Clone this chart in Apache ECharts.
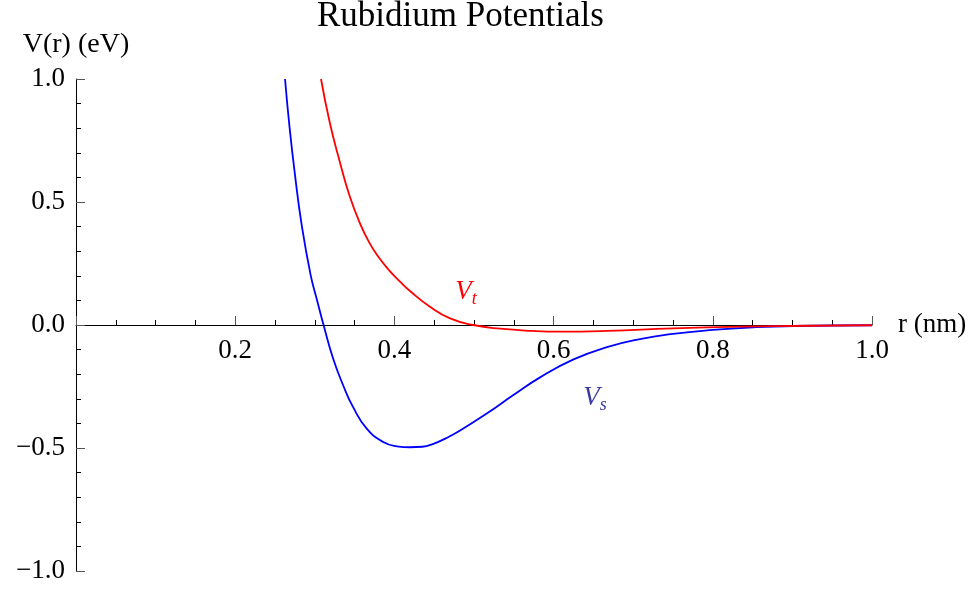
<!DOCTYPE html>
<html>
<head>
<meta charset="utf-8">
<title>Rubidium Potentials</title>
<script src="https://cdn.jsdelivr.net/npm/echarts@6/dist/echarts.min.js"></script>
<style>
  html, body { margin: 0; padding: 0; background: #fff; }
  #chart { width: 976px; height: 592px; }
</style>
</head>
<body>
<div id="chart"></div>
<script>
// Interatomic separation r (nm) and potential V(r) (eV)
// Singlet potential V_s
const singletR = [0.2626, 0.268, 0.2751, 0.2835, 0.2948, 0.3025, 0.311, 0.323, 0.336, 0.348,
                  0.365, 0.386, 0.403, 0.42, 0.435, 0.449, 0.465, 0.482, 0.516, 0.549,
                  0.583, 0.625, 0.667, 0.7085, 0.75, 0.80, 0.851, 0.901, 1.0];
const singletV = [1.0, 0.813, 0.61, 0.407, 0.203, 0.105, 0.0, -0.136, -0.248, -0.333,
                  -0.42, -0.476, -0.493, -0.497, -0.495, -0.483, -0.46, -0.43, -0.36, -0.286,
                  -0.213, -0.14, -0.09, -0.057, -0.036, -0.02, -0.0095, -0.004, -0.001];

// Triplet potential V_t
const tripletR = [0.3078, 0.319, 0.3317, 0.344, 0.3565, 0.369, 0.3815, 0.394, 0.407, 0.4196,
                  0.4447, 0.47, 0.499, 0.533, 0.574, 0.608, 0.667, 0.75, 0.834, 0.92, 1.0];
const tripletV = [1.0, 0.82, 0.66, 0.522, 0.415, 0.332, 0.27, 0.22, 0.176, 0.138,
                  0.074, 0.027, 0.0, -0.015, -0.024, -0.027, -0.024, -0.014, -0.007, -0.003, -0.001];

// Axis ranges
const rMin = 0, rMax = 1.0, rStep = 0.2;
const vMin = -1.0, vMax = 1.0, vStep = 0.5;

const FONT = 'Liberation Serif';
const GRID = { left: 76, right: 104, top: 79, bottom: 21 };
const CHART_H = 592;

function pairs(xs, ys) {
  return xs.map((x, i) => [x, ys[i]]);
}

function fmt(v) {
  const s = Math.abs(v).toFixed(1);
  return v < 0 ? '\u2212' + s : s;
}

function curveLabel(sub, color) {
  return {
    show: true,
    position: 'inside',
    formatter: '{v|V}{s|' + sub + '}',
    rich: {
      v: { fontFamily: FONT, fontStyle: 'italic', fontSize: 27, lineHeight: 32, color: color },
      s: { fontFamily: FONT, fontStyle: 'italic', fontSize: 18, lineHeight: 20,
           verticalAlign: 'bottom', color: color }
    }
  };
}

// The r axis crosses the V axis at V = 0: shift it up from the grid bottom by that fraction of the plot height
const plotH = CHART_H - GRID.top - GRID.bottom;
const zeroOffset = -plotH * (0 - vMin) / (vMax - vMin);

const chart = echarts.init(document.getElementById('chart'), null, { renderer: 'canvas' });

chart.setOption({
  animation: false,
  backgroundColor: '#ffffff',
  title: {
    text: 'Rubidium Potentials',
    left: 317,
    top: -1,
    padding: 0,
    textStyle: { fontFamily: FONT, fontSize: 35, fontWeight: 'normal', color: '#000' }
  },
  grid: Object.assign({ containLabel: false, outerBoundsMode: 'none' }, GRID),
  xAxis: {
    type: 'value',
    min: rMin,
    max: rMax,
    interval: rStep,
    position: 'bottom',
    offset: zeroOffset,
    name: 'r (nm)',
    nameLocation: 'end',
    nameGap: 26,
    nameTextStyle: { fontFamily: FONT, fontSize: 27, color: '#000' },
    axisLine: { onZero: false, lineStyle: { color: '#000', width: 1 } },
    axisTick: { inside: true, length: 9, lineStyle: { color: '#555', width: 1 } },
    minorTick: { show: true, splitNumber: 4, length: 5, lineStyle: { color: '#000', width: 1 } },
    splitLine: { show: false },
    axisLabel: {
      margin: 12,
      fontFamily: FONT, fontSize: 27, color: '#000',
      formatter: v => (v === 0 ? '' : v.toFixed(1))
    }
  },
  yAxis: {
    type: 'value',
    min: vMin,
    max: vMax,
    interval: vStep,
    name: 'V(r) (eV)',
    nameLocation: 'end',
    nameGap: 20,
    nameTextStyle: { fontFamily: FONT, fontSize: 28, color: '#000' },
    axisLine: { show: true, onZero: false, lineStyle: { color: '#000', width: 1 } },
    axisTick: { inside: true, length: 9, lineStyle: { color: '#555', width: 1 } },
    minorTick: { show: true, splitNumber: 5, length: 5, lineStyle: { color: '#000', width: 1 } },
    splitLine: { show: false },
    axisLabel: {
      margin: 11,
      fontFamily: FONT, fontSize: 27, color: '#000',
      formatter: fmt
    }
  },
  series: [
    {
      name: 'V_s',
      type: 'line',
      data: pairs(singletR, singletV),
      smooth: 0.5,
      showSymbol: false,
      clip: true,
      lineStyle: { color: '#0000ff', width: 1.8 },
      markPoint: {
        symbol: 'circle',
        symbolSize: 1,
        itemStyle: { color: 'rgba(0,0,0,0)' },
        label: curveLabel('s', '#3c3ca0'),
        data: [{ coord: [0.652, -0.297] }]
      }
    },
    {
      name: 'V_t',
      type: 'line',
      data: pairs(tripletR, tripletV),
      smooth: 0.5,
      showSymbol: false,
      clip: true,
      lineStyle: { color: '#ff0000', width: 1.8 },
      markPoint: {
        symbol: 'circle',
        symbolSize: 1,
        itemStyle: { color: 'rgba(0,0,0,0)' },
        label: curveLabel('t', '#ff0000'),
        data: [{ coord: [0.49, 0.133] }]
      }
    }
  ]
});
</script>
</body>
</html>
